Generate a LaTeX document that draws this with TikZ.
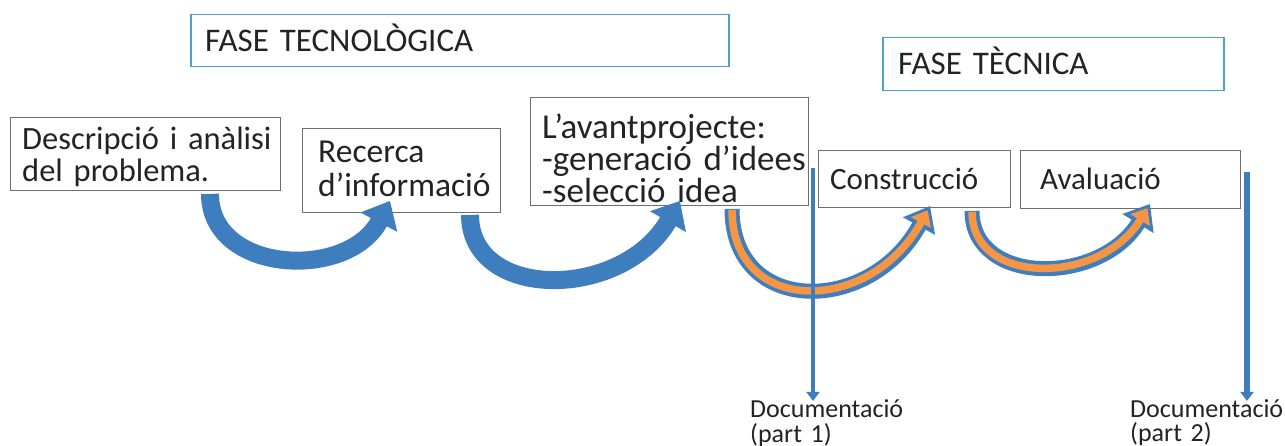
\documentclass[tikz,border=0pt]{standalone}
\usepackage{fontspec}
\setmainfont{Carlito}[WordSpace=0.9]
\usetikzlibrary{arrows.meta,calc}
\definecolor{arblue}{RGB}{62,126,190}
\definecolor{arorange}{RGB}{244,150,70}
\definecolor{phaseblue}{RGB}{80,160,205}
\definecolor{boxgray}{RGB}{110,110,110}
\definecolor{txt}{RGB}{35,35,35}
\begin{document}
\begin{tikzpicture}[x=1pt,y=-1pt,
  frame/.style={draw=boxgray,line width=0.9pt,anchor=north west,inner sep=0pt},
  phaseframe/.style={draw=phaseblue,line width=1.5pt,anchor=north west,inner sep=0pt},
  boxtext/.style={anchor=base west,align=left,inner sep=0pt,text width=400pt,text=txt,
    execute at begin node={\lineskiplimit=-50pt\relax}},
  bluearrow/.style={draw=arblue,line width=18pt,-{Triangle[width=40pt,length=24pt]}},
  orangeouter/.style={draw=arblue,line width=15pt,-{Triangle[width=35pt,length=23pt]}},
  orangeinner/.style={draw=arorange,line width=7.5pt,shorten >=5pt,shorten <=1pt,
    -{Triangle[width=22pt,length=14pt]}},
  docline/.style={draw=arblue,line width=#1,-{Triangle[width=13pt,length=9pt]}},
]
\useasboundingbox (0,0) rectangle (1285,446);

% phase boxes
\node[phaseframe,minimum width=538pt,minimum height=52pt] (tec) at (190,14) {};
\node[boxtext,font=\fontsize{33}{33}\selectfont] (ttec) at (205,52) {FASE TECNOLÒGICA};
\node[phaseframe,minimum width=341pt,minimum height=53pt] (tcn) at (882,37) {};
\node[boxtext,font=\fontsize{33}{33}\selectfont] (ttcn) at (898,75) {FASE TÈCNICA};

% stage boxes
\node[frame,minimum width=270pt,minimum height=73pt] (box1) at (10,117) {};
\node[boxtext,font=\fontsize{32.5}{32}\selectfont] (t1) at (22,150) {Descripció i anàlisi\\del problema.};
\node[frame,minimum width=198pt,minimum height=84pt] (box2) at (302,128) {};
\node[boxtext,font=\fontsize{33.5}{34}\selectfont] (t2) at (318,163) {Recerca\\d’informació};
\node[frame,minimum width=278pt,minimum height=108pt] (box3) at (530,97) {};
\node[boxtext,font=\fontsize{35}{32}\selectfont] (t3) at (542,139) {L’avantprojecte:\\-generació d’idees\\-selecció idea};
\node[frame,minimum width=192pt,minimum height=57pt] (constr) at (818,150) {};
\node[boxtext,font=\fontsize{31}{31}\selectfont] (t4) at (830,190) {Construcció};
\node[frame,minimum width=220pt,minimum height=58pt] (aval) at (1020,150) {};
\node[boxtext,font=\fontsize{31}{31}\selectfont] (t5) at (1040,190) {Avaluació};

% documentation labels
\node[boxtext,text width=155pt,font=\fontsize{26}{25}\selectfont] (doc1) at (750,417) {Documentació\\(part 1)};
\node[boxtext,text width=155pt,font=\fontsize{26}{24}\selectfont] (doc2) at (1130,417) {Documentació\\(part 2)};

% curved arrows
\draw[bluearrow] ([xshift=200pt,yshift=-3pt]box1.south west)
  .. controls +(0,80) and +(-42,80) .. ([xshift=88pt,yshift=12pt]box2.south west);
\draw[bluearrow] ([xshift=168pt,yshift=-2pt]box2.south west)
  .. controls +(0,86) and +(-58,100) .. ([xshift=150pt,yshift=5pt]box3.south west);

\draw[orangeouter] ([xshift=202pt,yshift=-3pt]box3.south west)
  .. controls +(0,107) and +(-60,110) .. ([xshift=112pt,yshift=2pt]constr.south west);
\draw[orangeinner] ([xshift=202pt,yshift=-3pt]box3.south west)
  .. controls +(0,107) and +(-60,110) .. ([xshift=112pt,yshift=2pt]constr.south west);

\draw[orangeouter] ([xshift=154pt,yshift=-3pt]constr.south west)
  .. controls +(0,75) and +(-50,82) .. ([xshift=130pt,yshift=5pt]aval.south west);
\draw[orangeinner] ([xshift=154pt,yshift=-3pt]constr.south west)
  .. controls +(0,75) and +(-50,82) .. ([xshift=130pt,yshift=5pt]aval.south west);

% documentation lines
\coordinate (v1) at (813,168);
\coordinate (v2) at (1247,172);
\draw[docline=4pt] (v1) -- ($(v1 |- doc1.north)+(0,2)$);
\draw[docline=6.5pt] (v2) -- ($(v2 |- doc2.north)+(0,2)$);
\end{tikzpicture}
\end{document}
